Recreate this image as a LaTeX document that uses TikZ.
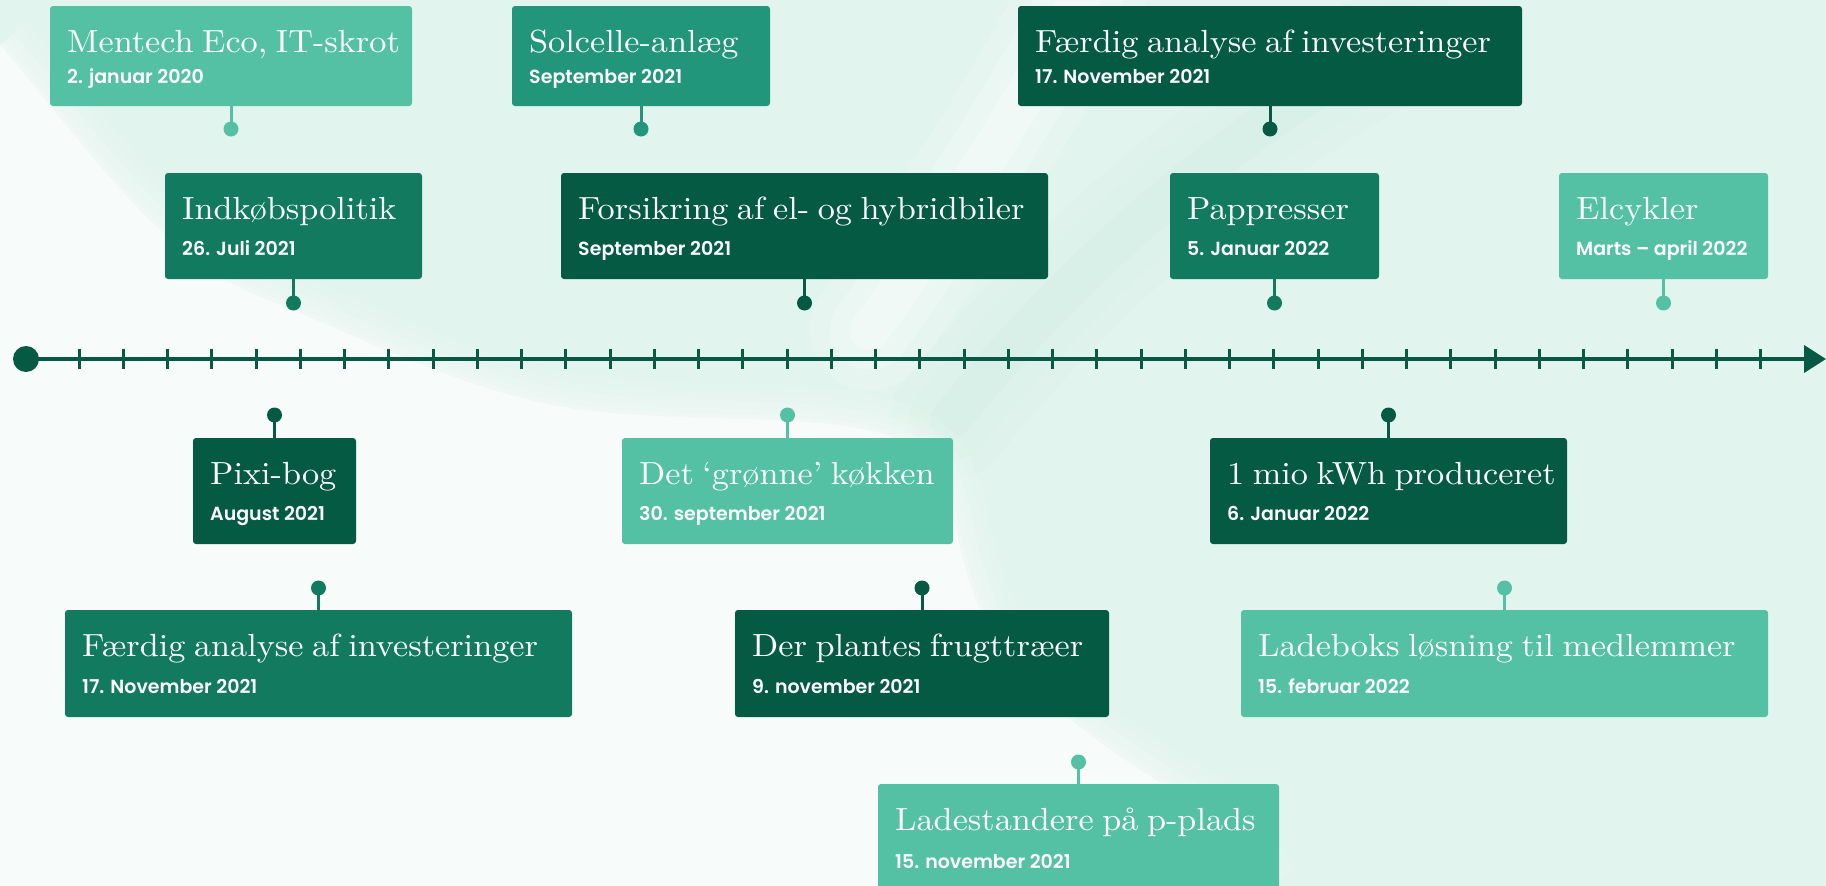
\documentclass[tikz,border=0pt]{standalone}
\usepackage{fontspec}
\setmainfont{lmroman10-regular}[Extension=.otf, FakeStretch=1.07, WordSpace=0.75]
\newfontfamily\datefont{Poppins}[UprightFont={* SemiBold}, BoldFont={* SemiBold}]
\usetikzlibrary{calc,arrows.meta}
\definecolor{cLight}{HTML}{54C0A4}
\definecolor{cMid}{HTML}{21967A}
\definecolor{cMed}{HTML}{117A5F}
\definecolor{cDark}{HTML}{045A43}
\definecolor{bgMint}{HTML}{E2F4EE}
\definecolor{bgBand}{HTML}{D2EEE5}
\definecolor{bgWhite}{HTML}{F7FCFA}
\definecolor{axisCol}{HTML}{065A43}
\tikzset{
  evbox/.style={rounded corners=3pt, inner sep=0pt, outer sep=0pt, anchor=north west},
  evtitle/.style={font=\fontsize{32}{36}\selectfont, text=white, anchor=base west, inner sep=0pt},
  evdate/.style={font=\datefont\fontsize{19}{22}\selectfont, text=white, anchor=base west, inner sep=0pt},
  evdot/.style={circle, inner sep=0pt, outer sep=0pt, minimum size=15pt},
  evstem/.style={line width=3pt},
  axtick/.style={line width=3pt, axisCol},
}
% #1 name, #2 colour, #3 x, #4 y, #5 width, #6 height, #7 title, #8 date, #9 date offset
\newcommand\tlevent[9]{%
  \node[evbox, fill=#2, minimum width=#5pt, minimum height=#6pt] (#1) at (#3,#4) {};
  \node[evtitle] (#1-t) at ($(#1.north west)+(17pt,-46pt)$) {#7};
  \node[evdate] (#1-d) at ($(#1.north west)+(17pt,-#9pt)$) {#8};
}
% pin below a box: #1 box, #2 colour, #3 pin y
\newcommand\pinbelow[3]{%
  \node[evdot, fill=#2] (#1-p) at (#1.south |- 0,#3) {};
  \draw[evstem, draw=#2] (#1.south) -- (#1-p.center);
}
% pin above a box
\newcommand\pinabove[3]{%
  \node[evdot, fill=#2] (#1-p) at (#1.north |- 0,#3) {};
  \draw[evstem, draw=#2] (#1.north) -- (#1-p.center);
}
\begin{document}
\begin{tikzpicture}[x=1pt,y=-1pt]
\useasboundingbox (0,0) rectangle (1826,886);
\begin{scope}
\clip (0,0) rectangle (1826,886);
\fill[bgMint] (0,0) rectangle (1826,886);
% soft diagonal bands
\foreach \w/\o in {120/0.15,80/0.2,40/0.25}{
  \draw[bgBand, line width=\w pt, opacity=\o, line cap=round]
    (950,420) .. controls (1080,260) and (1220,140) .. (1400,40);
  \draw[white, line width=\w pt, opacity=\o, line cap=round]
    (870,330) .. controls (950,220) and (1020,110) .. (1090,-20);
}
\foreach \w/\o in {70/0.12,52/0.15,36/0.2,20/0.25,8/0.3}{
  \draw[bgWhite, line width=\w pt, opacity=\o]
    (0,45) .. controls (90,150) and (160,260) .. (268,300)
    .. controls (380,345) and (480,400) .. (600,412)
    .. controls (720,424) and (860,410) .. (920,450)
    .. controls (960,480) and (950,560) .. (990,630)
    .. controls (1030,700) and (1120,760) .. (1190,800)
    .. controls (1230,825) and (1250,860) .. (1260,886);
}
\fill[bgWhite]
    (0,45) .. controls (90,150) and (160,260) .. (268,300)
    .. controls (380,345) and (480,400) .. (600,412)
    .. controls (720,424) and (860,410) .. (920,450)
    .. controls (960,480) and (950,560) .. (990,630)
    .. controls (1030,700) and (1120,760) .. (1190,800)
    .. controls (1230,825) and (1250,860) .. (1260,886) -- (0,886) -- cycle;
\end{scope}

% axis
\node[circle, fill=axisCol, minimum size=26pt, inner sep=0pt] (start) at (26,359) {};
\coordinate (axend) at (1826,359);
\draw[line width=4pt, axisCol, -{Triangle[length=22pt,width=27pt]}] (start.center) -- (axend);
\foreach \i in {0,...,38}{
  \draw[axtick] ({79+44.25*\i},349) -- ({79+44.25*\i},369);
}

% top row
\tlevent{mentech}{cLight}{50}{6}{362}{100}{Mentech Eco, IT-skrot}{2. januar 2020}{77}
\tlevent{solcelle}{cMid}{512}{6}{258}{100}{Solcelle-anlæg}{September 2021}{77}
\tlevent{faerdigA}{cDark}{1018}{6}{504}{100}{Færdig analyse af investeringer}{17. November 2021}{77}
\pinbelow{mentech}{cLight}{129}
\pinbelow{solcelle}{cMid}{129}
\pinbelow{faerdigA}{cDark}{129}

% second row
\tlevent{indkob}{cMed}{165}{173}{257}{106}{Indkøbspolitik}{26. Juli 2021}{82}
\tlevent{forsikring}{cDark}{561}{173}{487}{106}{Forsikring af el- og hybridbiler}{September 2021}{82}
\tlevent{pappresser}{cMed}{1170}{173}{209}{106}{Pappresser}{5. Januar 2022}{82}
\tlevent{elcykler}{cLight}{1559}{173}{209}{106}{Elcykler}{Marts – april 2022}{82}
\pinbelow{indkob}{cMed}{303}
\pinbelow{forsikring}{cDark}{303}
\pinbelow{pappresser}{cMed}{303}
\pinbelow{elcykler}{cLight}{303}

% third row
\tlevent{pixi}{cDark}{193}{438}{163}{106}{Pixi-bog}{August 2021}{82}
\tlevent{gronne}{cLight}{622}{438}{331}{106}{Det ‘grønne’ køkken}{30. september 2021}{82}
\tlevent{mio}{cDark}{1210}{438}{357}{106}{1 mio kWh produceret}{6. Januar 2022}{82}
\pinabove{pixi}{cDark}{415}
\pinabove{gronne}{cLight}{415}
\pinabove{mio}{cDark}{415}

% fourth row
\tlevent{faerdigB}{cMed}{65}{610}{507}{107}{Færdig analyse af investeringer}{17. November 2021}{83}
\tlevent{plantes}{cDark}{735}{610}{374}{107}{Der plantes frugttræer}{9. november 2021}{83}
\tlevent{ladeboks}{cLight}{1241}{610}{527}{107}{Ladeboks løsning til medlemmer}{15. februar 2022}{83}
\pinabove{faerdigB}{cMed}{588}
\pinabove{plantes}{cDark}{588}
\pinabove{ladeboks}{cLight}{588}

% fifth row
\tlevent{ladestandere}{cLight}{878}{784}{401}{120}{Ladestandere på p-plads}{15. november 2021}{84}
\pinabove{ladestandere}{cLight}{762}
\end{tikzpicture}
\end{document}
